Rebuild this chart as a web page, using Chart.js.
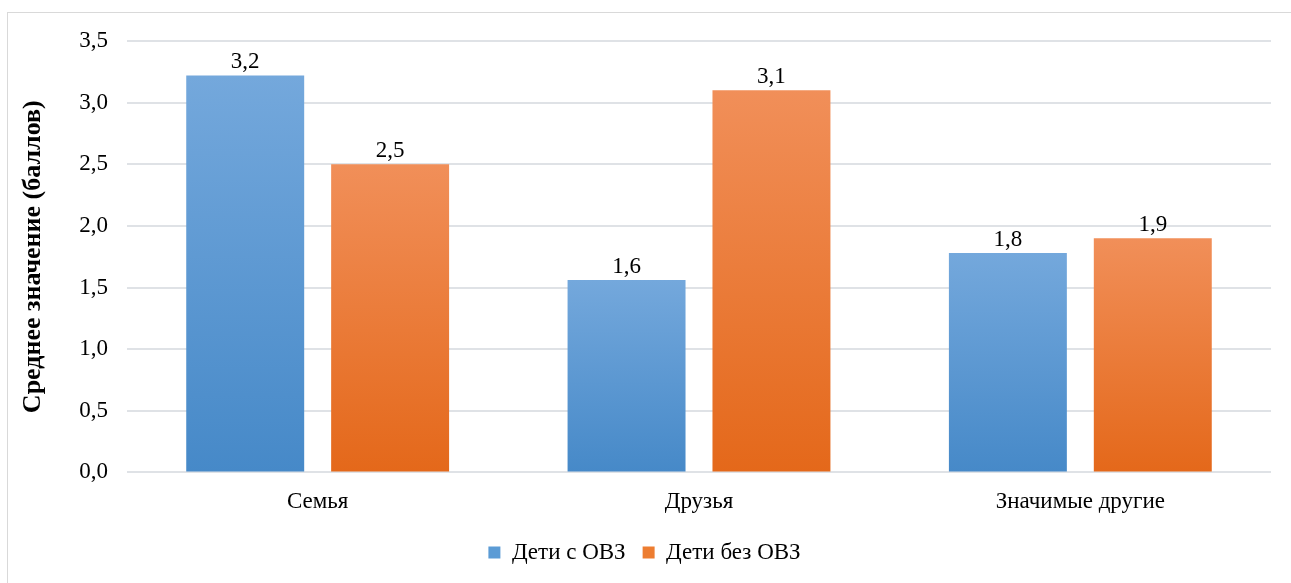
<!DOCTYPE html>
<html>
<head>
<meta charset="utf-8">
<script src="https://cdn.jsdelivr.net/npm/chart.js@4"></script>
<style>
  body { margin: 0; background: #fff; }
  #frame { position: absolute; left: 7px; top: 12px; width: 1300px; height: 600px; border: 1px solid #d9d9d9; box-sizing: border-box; }
  #wrap { position: absolute; left: 0; top: 0; width: 1291px; height: 583px; }
</style>
</head>
<body>
<div id="frame"></div>
<div id="wrap"><canvas id="chart"></canvas></div>
<script>
// data
const categories = ['Семья', 'Друзья', 'Значимые другие'];
const seriesNames = ['Дети с ОВЗ', 'Дети без ОВЗ'];
const withOVZ = [3.22, 1.56, 1.78];
const withoutOVZ = [2.50, 3.10, 1.90];
const yTicks = [0, 0.5, 1, 1.5, 2, 2.5, 3, 3.5];

const FONT = "'Liberation Serif', serif";
const FS = 23;

// per-bar vertical gradient, top lighter
function barFill(top, bottom) {
  return ctx => {
    const chart = ctx.chart;
    if (!chart.chartArea || ctx.raw === undefined) return bottom;
    const y = chart.scales.y;
    const y0 = y.getPixelForValue(0);
    const y1 = y.getPixelForValue(ctx.raw);
    const g = chart.ctx.createLinearGradient(0, y1, 0, y0);
    g.addColorStop(0, top);
    g.addColorStop(1, bottom);
    return g;
  };
}

const valueLabels = {
  id: 'valueLabels',
  afterDatasetsDraw(chart) {
    const c = chart.ctx;
    c.save();
    c.font = FS + 'px ' + FONT;
    c.fillStyle = '#000';
    c.textAlign = 'center';
    c.textBaseline = 'bottom';
    chart.data.datasets.forEach((ds, i) => {
      chart.getDatasetMeta(i).data.forEach((bar, j) => {
        c.fillText(ds.data[j].toFixed(1).replace('.', ','), bar.x, bar.y - 2);
      });
    });
    c.restore();
  }
};

new Chart(document.getElementById('chart'), {
  type: 'bar',
  data: {
    labels: categories,
    datasets: [
      { label: seriesNames[0], data: withOVZ, backgroundColor: barFill('#74a8dc', '#4689c8'), legendColor: '#5b9bd5' },
      { label: seriesNames[1], data: withoutOVZ, backgroundColor: barFill('#f18f59', '#e4681a'), legendColor: '#ed7d31' }
    ]
  },
  options: {
    responsive: true,
    maintainAspectRatio: false,
    animation: false,
    datasets: { bar: { categoryPercentage: 0.76, barPercentage: 0.814 } },
    layout: { padding: { left: 18, right: 20, top: 41, bottom: 9 } },
    plugins: {
      tooltip: { enabled: false },
      legend: {
        position: 'bottom',
        labels: {
          font: { family: FONT, size: FS },
          color: '#000',
          boxWidth: 12,
          boxHeight: 12,
          padding: 17,
          generateLabels(chart) {
            return chart.data.datasets.map((ds, i) => ({
              text: ds.label,
              fillStyle: ds.legendColor,
              strokeStyle: ds.legendColor,
              lineWidth: 0,
              datasetIndex: i
            }));
          }
        }
      }
    },
    scales: {
      x: {
        grid: { display: false },
        border: { display: false },
        ticks: { font: { family: FONT, size: FS }, color: '#000', padding: 8 }
      },
      y: {
        min: 0,
        max: 3.5,
        afterBuildTicks(scale) { scale.ticks = yTicks.map(v => ({ value: v })); },
        afterFit(scale) { scale.width = 109; },
        grid: { color: '#dfe2e6', lineWidth: 2, drawTicks: false },
        border: { display: false },
        ticks: {
          font: { family: FONT, size: FS },
          color: '#000',
          padding: 19,
          callback: v => v.toFixed(1).replace('.', ',')
        },
        title: {
          display: true,
          text: 'Среднее значение (баллов)',
          font: { family: FONT, size: 26, weight: 'bold' },
          color: '#000',
          padding: 0
        }
      }
    }
  },
  plugins: [valueLabels]
});
</script>
</body>
</html>
